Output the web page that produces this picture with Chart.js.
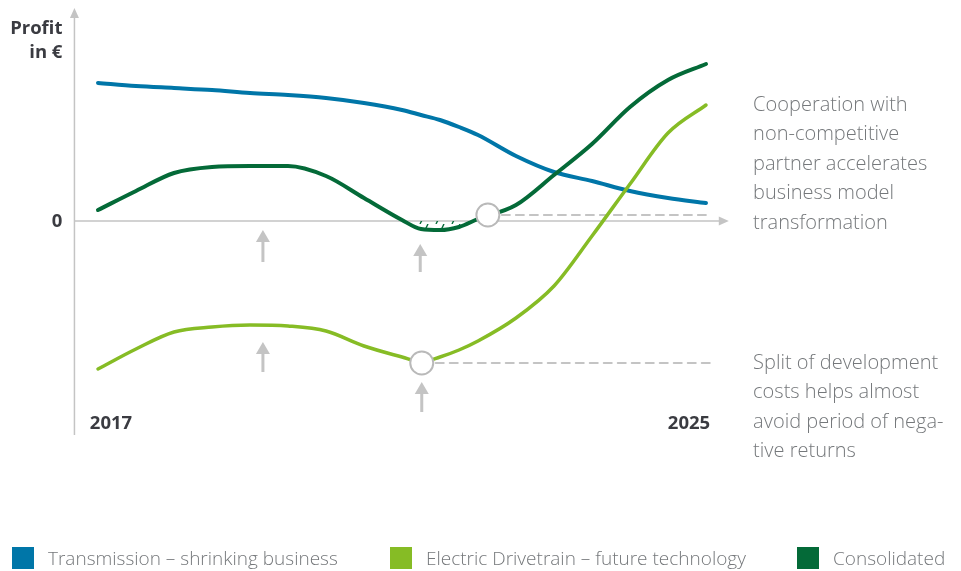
<!DOCTYPE html>
<html lang="en">
<head>
<meta charset="UTF-8">
<title>Profit development</title>
<script src="https://cdn.jsdelivr.net/npm/chart.js"></script>
<style>
  html, body { margin: 0; padding: 0; background: #fff; }
  #wrap { width: 961px; height: 571px; }
</style>
</head>
<body>
<div id="wrap"><canvas id="profitChart" width="961" height="571"></canvas></div>
<script>
// time axis (years) shared by all three curves
const years = [2017, 2017.5, 2018, 2018.5, 2019, 2019.5, 2020, 2020.5, 2021, 2021.25,
               2021.5, 2021.75, 2022, 2022.5, 2023, 2023.5, 2024, 2024.5, 2025];

// profit (conceptual units, 0 = break even)
const transmission = [138, 135, 133, 131, 128, 126, 123, 118, 111, 106, 101, 94, 86, 65, 49, 40, 30, 23, 18];
const electric     = [-148, -128, -111, -106, -104, -105, -110, -125, -136, -141, -136, -129, -120, -97, -65, -15, 37, 88, 116];
const consolidated = [11, 30, 48, 54, 55, 55, 45, 23, 1, -8, -9, -6, 2, 16, 46, 77, 114, 141, 157];

const seriesNames = ['Transmission – shrinking business', 'Electric Drivetrain – future technology', 'Consolidated'];
const yearLabels = [2017, 2025];

// markers: break-even points and the dashed guide lines to the right
const markerYears  = [2022.13, 2021.26];
const markerValues = [6, -142];
const guideEnd     = [2025.05, 2025.1];

// grey arrows (year, tail value, tip value)
const arrowYears = [2019.17, 2021.24, 2019.17, 2021.26];
const arrowTails = [-41, -51, -151, -191];
const arrowTips  = [-9, -23, -121, -161];

const noteTop = ['Cooperation with', 'non-competitive', 'partner accelerates', 'business model', 'transformation'];
const noteBottom = ['Split of development', 'costs helps almost', 'avoid period of nega-', 'tive returns'];

const BLUE = '#0076a8', LIGHT = '#86bc25', DARK = '#046a38', GREY = '#c4c4c4', TEXT = '#75787b', DARKTEXT = '#3a3b41';
const legendX = [12, 390, 797];

function pts(vals) { return vals.map((v, i) => ({ x: years[i], y: v })); }

function hatch(color) {
  const c = document.createElement('canvas');
  c.width = 16; c.height = 16;
  const g = c.getContext('2d');
  g.strokeStyle = color; g.lineWidth = 1.4;
  g.beginPath(); g.moveTo(4, 16); g.lineTo(12, 0); g.stroke();
  return g.createPattern(c, 'repeat');
}

const annotate = {
  id: 'annotate',
  beforeDatasetsDraw(chart) {
    const { ctx, scales: { x, y } } = chart;
    const x0 = x.getPixelForValue(2016.69), xEnd = x.getPixelForValue(2025.3);
    const y0 = y.getPixelForValue(0), yTop = y.getPixelForValue(213), yBot = y.getPixelForValue(-214);
    ctx.save();
    ctx.strokeStyle = GREY; ctx.fillStyle = GREY; ctx.lineWidth = 1.5;
    ctx.beginPath();
    ctx.moveTo(x0, yBot); ctx.lineTo(x0, yTop + 8);
    ctx.moveTo(x0, y0); ctx.lineTo(xEnd - 8, y0);
    ctx.stroke();
    ctx.beginPath();
    ctx.moveTo(x0, yTop); ctx.lineTo(x0 - 4.5, yTop + 10); ctx.lineTo(x0 + 4.5, yTop + 10); ctx.closePath();
    ctx.moveTo(xEnd, y0); ctx.lineTo(xEnd - 10, y0 - 4.5); ctx.lineTo(xEnd - 10, y0 + 4.5); ctx.closePath();
    ctx.fill();
    ctx.restore();
  },
  afterDatasetsDraw(chart) {
    const { ctx, scales: { x, y } } = chart;
    ctx.save();
    ctx.strokeStyle = GREY; ctx.fillStyle = GREY; ctx.lineWidth = 3;
    arrowYears.forEach((yr, i) => {
      const px = x.getPixelForValue(yr);
      const tail = y.getPixelForValue(arrowTails[i]), tip = y.getPixelForValue(arrowTips[i]);
      ctx.beginPath(); ctx.moveTo(px, tail); ctx.lineTo(px, tip + 10); ctx.stroke();
      ctx.beginPath(); ctx.moveTo(px, tip); ctx.lineTo(px - 7, tip + 12); ctx.lineTo(px + 7, tip + 12); ctx.closePath(); ctx.fill();
    });
    ctx.restore();
  },
  afterDraw(chart) {
    const { ctx, scales: { x, y } } = chart;
    ctx.save();
    ctx.textBaseline = 'middle';
    ctx.fillStyle = DARKTEXT;
    ctx.font = '700 18.5px "Open Sans"';
    const axisX = x.getPixelForValue(2016.69);
    ctx.textAlign = 'right';
    ctx.fillText('Profit', axisX - 12, 29);
    ctx.fillText('in €', axisX - 12, 53);
    ctx.fillText('0', axisX - 12, y.getPixelForValue(0) + 1);
    ctx.textAlign = 'center';
    yearLabels.forEach(yr => ctx.fillText(String(yr), x.getPixelForValue(yr) + (yr === 2017 ? 13 : -17), y.getPixelForValue(-203)));

    ctx.fillStyle = TEXT;
    ctx.font = '300 20px "Open Sans"';
    ctx.textAlign = 'left';
    const noteX = x.getPixelForValue(2025.62);
    noteTop.forEach((t, i) => ctx.fillText(t, noteX, y.getPixelForValue(116) + i * 29.5));
    noteBottom.forEach((t, i) => ctx.fillText(t, noteX, y.getPixelForValue(-142) + i * 29.5));

    // legend for the three series, laid out like the original
    ctx.font = '300 19px "Open Sans"';
    chart.data.datasets.slice(0, 3).forEach((ds, i) => {
      ctx.fillStyle = ds.borderColor;
      ctx.fillRect(legendX[i], 547, 22, 22);
      ctx.fillStyle = TEXT;
      ctx.fillText(ds.label, legendX[i] + 36, 559.5);
    });
    ctx.restore();
  }
};

new Chart(document.getElementById('profitChart'), {
  type: 'line',
  data: {
    datasets: [
      { label: seriesNames[0], data: pts(transmission), borderColor: BLUE, backgroundColor: BLUE, borderWidth: 4, order: 3 },
      { label: seriesNames[1], data: pts(electric), borderColor: LIGHT, backgroundColor: LIGHT, borderWidth: 3.5, order: 2 },
      { label: seriesNames[2], data: pts(consolidated), borderColor: DARK, backgroundColor: DARK, borderWidth: 4, order: 1,
        fill: { target: 'origin', above: 'rgba(0,0,0,0)', below: hatch(DARK) } },
      { label: 'guide1', data: [{ x: markerYears[0], y: markerValues[0] }, { x: guideEnd[0], y: markerValues[0] }],
        borderColor: GREY, borderWidth: 2, borderDash: [8, 6], order: 5 },
      { label: 'guide2', data: [{ x: markerYears[1], y: markerValues[1] }, { x: guideEnd[1], y: markerValues[1] }],
        borderColor: GREY, borderWidth: 2, borderDash: [8, 6], order: 5 },
      { label: 'markers', type: 'scatter', data: markerYears.map((yr, i) => ({ x: yr, y: markerValues[i] })),
        pointRadius: 11.5, pointBorderWidth: 2, pointBackgroundColor: '#fff', pointBorderColor: '#b9b9b9', order: -1 }
    ]
  },
  options: {
    responsive: false,
    animation: false,
    layout: { padding: 0, autoPadding: false },
    elements: {
      line: { cubicInterpolationMode: 'monotone', borderCapStyle: 'round', fill: false },
      point: { radius: 0 }
    },
    scales: {
      x: { type: 'linear', min: 2017 - 98 / 76, max: 2017 + 863 / 76, display: false },
      y: { min: -350, max: 221, display: false }
    },
    plugins: {
      tooltip: { enabled: false },
      legend: { display: false }
    }
  },
  plugins: [annotate]
});
</script>
</body>
</html>
